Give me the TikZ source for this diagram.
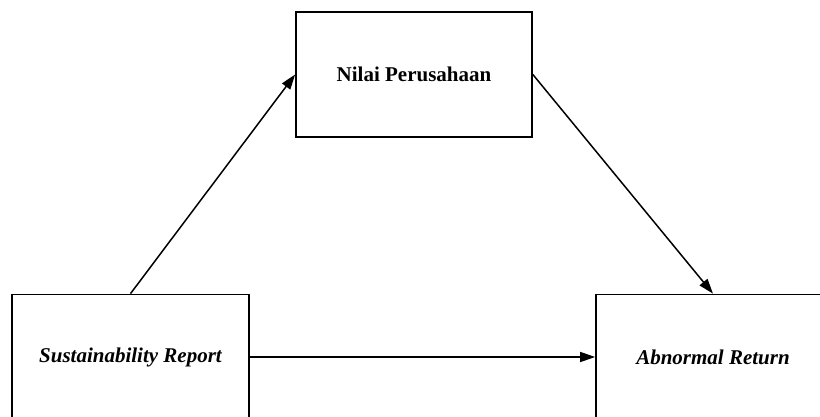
\documentclass[tikz,border=0pt]{standalone}
\usepackage{fontspec}
\setmainfont{Liberation Serif}
\usetikzlibrary{arrows.meta}
\begin{document}
\begin{tikzpicture}[x=1pt,y=1pt,
  box/.style={draw, line width=1.7pt, rectangle, minimum height=125pt, inner sep=0pt,
    font=\fontsize{21}{25}\selectfont\bfseries},
  conn/.style={line width=1.5pt, -{Triangle[length=15pt,width=10pt]}}]
\useasboundingbox (0,0) rectangle (820,416);
\clip (0,0) rectangle (820,416);
\fill[white] (0,0) rectangle (820,416);
\node[box, minimum width=236pt] (np) at (414,341.5) {Nilai Perusahaan};
\node[box, minimum width=237pt] (sr) at (130.5,59) {\itshape Sustainability Report};
\node[box, minimum width=234pt] (ar) at (713,59) {\itshape Abnormal Return};
\draw[conn] (sr.north) -- (np.west);
\draw[conn] (np.east) -- (ar.north);
\draw[conn] (sr.east) -- (ar.west);
\end{tikzpicture}
\end{document}
